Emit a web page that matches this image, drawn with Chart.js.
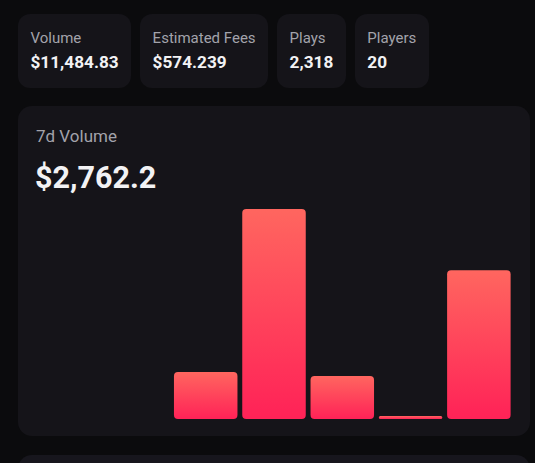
<!DOCTYPE html>
<html>
<head>
<meta charset="utf-8">
<script src="https://cdn.jsdelivr.net/npm/chart.js@4"></script>
<style>
  html, body {
    margin: 0;
    padding: 0;
    background: #0b0b0d;
    width: 535px;
    height: 463px;
    overflow: hidden;
    font-family: Roboto, "Noto Sans", sans-serif;
  }
  .stats {
    position: absolute;
    top: 14px;
    left: 18px;
    display: flex;
    gap: 9px;
  }
  .stat {
    background: #151419;
    border-radius: 12px;
    height: 74px;
    box-sizing: border-box;
    padding: 14px 12.5px 0 12.5px;
  }
  .stat .label {
    color: #a3a3ab;
    font-size: 15px;
    line-height: 20px;
  }
  .stat .value {
    color: #f2f2f4;
    font-size: 17.2px;
    font-weight: 700;
    line-height: 24px;
    margin-top: 2px;
  }
  .card {
    position: absolute;
    left: 18px;
    top: 106px;
    width: 512px;
    height: 330px;
    background: #151419;
    border-radius: 14px;
  }
  .card .title {
    position: absolute;
    left: 18px;
    top: 18px;
    color: #a3a3ab;
    font-size: 17px;
    line-height: 24px;
  }
  .card .total {
    position: absolute;
    left: 17px;
    top: 52px;
    color: #f2f2f4;
    font-size: 30.5px;
    font-weight: 700;
    line-height: 40px;
  }
  #volumeChart {
    position: absolute;
    left: 17px;
    top: 84px;
  }
  .next {
    position: absolute;
    left: 18px;
    top: 455px;
    width: 512px;
    height: 60px;
    background: #17161d;
    border-radius: 14px;
  }
</style>
</head>
<body>
<div class="stats">
  <div class="stat"><div class="label">Volume</div><div class="value">$11,484.83</div></div>
  <div class="stat"><div class="label">Estimated Fees</div><div class="value">$574.239</div></div>
  <div class="stat"><div class="label">Plays</div><div class="value">2,318</div></div>
  <div class="stat"><div class="label">Players</div><div class="value">20</div></div>
</div>

<div class="card">
  <div class="title">7d Volume</div>
  <div class="total">$2,762.2</div>
  <canvas id="volumeChart" width="478" height="229"></canvas>
</div>
<div class="next"></div>

<script>
// 7 day volume, one bar per day
const days = ["Mon", "Tue", "Wed", "Thu", "Fri", "Sat", "Sun"];
const volume = [0, 0, 287.6, 1283.1, 263.1, 18.4, 910.0];
const yMax = 1400;

// each bar gets its own gradient, light at the top, pink at the base
function barGradient(context) {
  const chart = context.chart;
  if (!chart.chartArea) return "#ff3a5a";
  const y = chart.scales.y;
  const top = y.getPixelForValue(context.raw);
  const base = y.getPixelForValue(0);
  if (base - top < 1) return "#ff3a5a";
  const g = chart.ctx.createLinearGradient(0, top, 0, base);
  g.addColorStop(0, "#ff665f");
  g.addColorStop(1, "#ff2257");
  return g;
}

const ctx = document.getElementById("volumeChart").getContext("2d");
new Chart(ctx, {
  type: "bar",
  data: {
    labels: days,
    datasets: [
      {
        label: "Volume",
        data: volume,
        backgroundColor: barGradient,
        borderRadius: 4,
        borderSkipped: false,
        barPercentage: 0.93,
        categoryPercentage: 1,
      },
    ],
  },
  options: {
    responsive: false,
    animation: false,
    devicePixelRatio: 1,
    layout: { padding: 0 },
    plugins: {
      legend: { display: false },
      tooltip: { enabled: false },
    },
    scales: {
      x: { display: false },
      y: { display: false, min: 0, max: yMax },
    },
  },
});
</script>
</body>
</html>
